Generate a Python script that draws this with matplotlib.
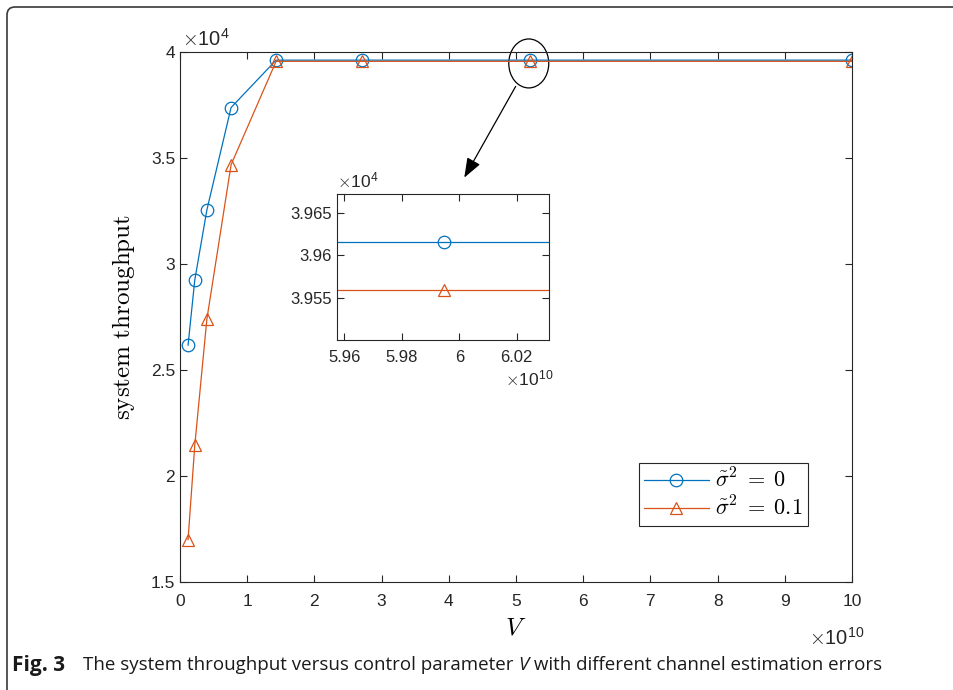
import numpy as np
import matplotlib
matplotlib.use("Agg")
import matplotlib.pyplot as plt
from matplotlib.patches import Ellipse, FancyBboxPatch
from matplotlib.ticker import FuncFormatter

plt.rcParams['font.family'] = ['Liberation Sans', 'DejaVu Sans']
plt.rcParams['mathtext.fontset'] = 'cm'

# data (x in units of 1e10, y in units of 1e4)
v = [0.12, 0.22, 0.40, 0.76, 1.43, 2.71, 5.21, 10.0]
thr_0 = [2.617, 2.925, 3.255, 3.738, 3.9616, 3.9616, 3.9616, 3.9616]
thr_01 = [1.70, 2.145, 2.74, 3.468, 3.9559, 3.9559, 3.9559, 3.9559]

inset_v = [5.9947]
inset_thr_0 = [3.9616]
inset_thr_01 = [3.9559]

blue = '#0072BD'
red = '#D95319'
dark = '#262626'

gfmt = FuncFormatter(lambda val, pos: '%g' % round(val, 6))


def matlab_axes(ax, fs):
    for s in ax.spines.values():
        s.set_color(dark)
        s.set_linewidth(0.8)
    ax.tick_params(direction='in', top=True, right=True, labelsize=fs,
                   color=dark, labelcolor=dark, length=5, width=0.8)
    ax.xaxis.set_major_formatter(gfmt)
    ax.yaxis.set_major_formatter(gfmt)


def exp_text(ax, x, y, e, fs, **kw):
    ax.text(x, y, r'$\times\mathregular{10}^{\mathregular{%d}}$' % e, transform=ax.transAxes,
            fontsize=fs, color=dark, **kw)


fig = plt.figure(figsize=(9.54, 6.9), dpi=100)

ax = fig.add_axes([180 / 954, 108 / 690, 672 / 954, 530 / 690])
ax.plot(v, thr_0, '-o', color=blue, lw=0.9, ms=9,
        mfc='none', mew=0.9, label=r'$\tilde{\sigma}^2\;=\;0$')
ax.plot(v, thr_01, '-^', color=red, lw=0.9, ms=9,
        mfc='none', mew=0.9, label=r'$\tilde{\sigma}^2\;=\;0.1$')
ax.set_xlim(0, 10)
ax.set_ylim(1.5, 4)
ax.set_xticks(np.arange(0, 11))
ax.set_yticks(np.arange(1.5, 4.01, 0.5))
matlab_axes(ax, 12.5)
ax.tick_params(axis='x', pad=9)
ax.set_xlabel(r'$V$', fontsize=18, labelpad=4)
ax.set_ylabel(r'$\mathrm{system\ throughput}$', fontsize=18, labelpad=10)
exp_text(ax, 0.003, 1.005, 4, 14.5, ha='left', va='bottom')
exp_text(ax, 1.02, -0.085, 10, 14.5, ha='right', va='top')

leg = ax.legend(loc='lower right', bbox_to_anchor=(0.935, 0.105), fontsize=16,
                fancybox=False, framealpha=1, edgecolor=dark,
                handlelength=2.9, borderpad=0.25, labelspacing=0.2,
                handletextpad=0.3, borderaxespad=0)
leg.get_frame().set_linewidth(0.8)

# circle around the zoomed point and arrow to inset
ell = Ellipse((5.19, 3.946), 0.595, 0.231, fill=False,
              edgecolor='black', lw=0.9, clip_on=False)
ax.add_patch(ell)
ax.annotate('', xy=(4.21, 3.396), xytext=(5.015, 3.849),
            arrowprops=dict(arrowstyle='-|>,head_length=1.2,head_width=0.45',
                            color='black', lw=0.9))

# inset
axi = fig.add_axes([337 / 954, 350 / 690, 212 / 954, 146 / 690])
axi.axhline(inset_thr_0[0], color=blue, lw=0.9)
axi.axhline(inset_thr_01[0], color=red, lw=0.9)
axi.plot(inset_v, inset_thr_0, 'o', color=blue, ms=9, mfc='none', mew=0.9)
axi.plot(inset_v, inset_thr_01, '^', color=red, ms=9, mfc='none', mew=0.9)
axi.set_xlim(5.9575, 6.0312)
axi.set_ylim(3.9500, 3.9672)
axi.set_xticks([5.96, 5.98, 6.0, 6.02])
axi.set_yticks([3.955, 3.96, 3.965])
matlab_axes(axi, 12)
axi.tick_params(axis='x', pad=7)
exp_text(axi, 0.0, 1.02, 4, 12.5, ha='left', va='bottom')
exp_text(axi, 1.02, -0.2, 10, 12.5, ha='right', va='top')

# page frame and caption
frame = FancyBboxPatch((7, -50), 1000, 690 - 7 + 50,
                       boxstyle='round,pad=0,rounding_size=8',
                       transform=None, fill=False, edgecolor='#3a3a3a', lw=1.2)
fig.patches.append(frame)
cap = dict(fontsize=13.5, family=['Open Sans', 'DejaVu Sans'], va='center', color='#1a1a1a')
fig.text(12 / 954, 25 / 690, 'Fig. 3', fontweight='bold', fontsize=15,
         family=['Open Sans', 'DejaVu Sans'], va='center', color='#1a1a1a')
t1 = fig.text(83 / 954, 25 / 690, 'The system throughput versus control parameter ', **cap)
fig.canvas.draw()
r = fig.canvas.get_renderer()
x_end = t1.get_window_extent(r).x1
t2 = fig.text(x_end / 954, 25 / 690, 'V', fontstyle='italic', **cap)
x_end = t2.get_window_extent(r).x1
fig.text(x_end / 954, 25 / 690, ' with different channel estimation errors', **cap)

fig.savefig('out.png', dpi=100)
